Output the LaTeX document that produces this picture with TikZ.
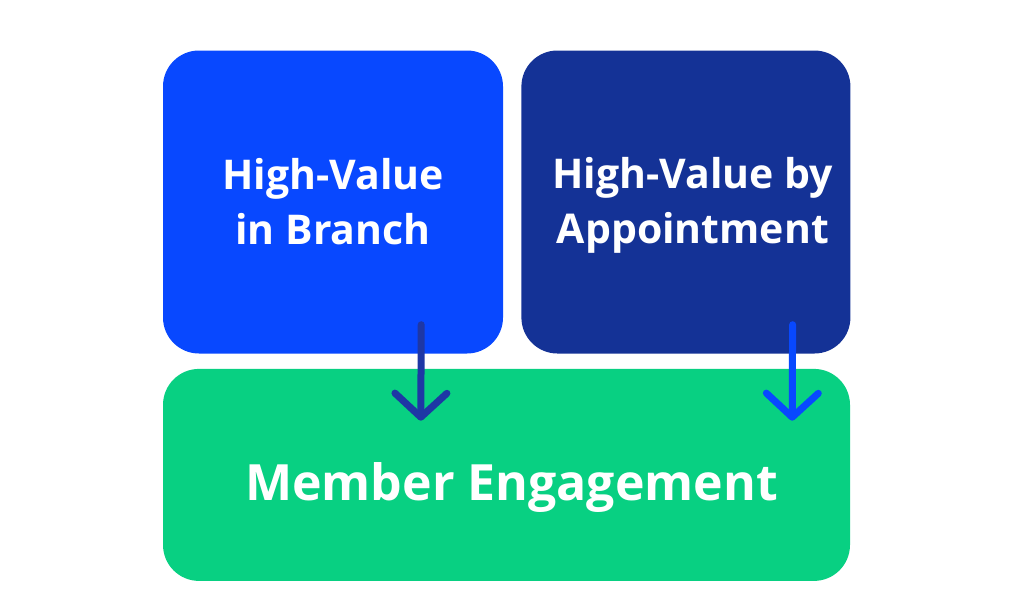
\documentclass[tikz,border=0pt]{standalone}
\usepackage{fontspec}
\setmainfont{Open Sans}
\usepackage{xcolor}
\usepackage{tikz}
\usetikzlibrary{arrows.meta,positioning,calc}

\definecolor{brightblue}{RGB}{8,72,255}
\definecolor{navyblue}{RGB}{20,50,150}
\definecolor{mintgreen}{RGB}{8,208,130}
\definecolor{arrowblue}{RGB}{30,55,165}

\tikzset{
  tile/.style={rounded corners=36pt, text=white, align=center, font=\bfseries\fontsize{41}{55}\selectfont},
  downarrow/.style={line width=7pt, line cap=round, -{Straight Barb[length=24pt, width=52pt, round]}}
}

\begin{document}
\begin{tikzpicture}[x=1pt, y=-1pt]
    \useasboundingbox (0,0) rectangle (1024,611);
    \node[tile, fill=brightblue, minimum width=340pt, minimum height=303pt] (HB) at (333,202) {High-Value\\in Branch};
    \node[tile, fill=navyblue, minimum width=329pt, minimum height=303pt, right=18pt of HB] (HA) {};
    \node[text=white, align=center, font=\bfseries\fontsize{41}{55}\selectfont] (HAtext) at ($(HA.center)+(7,3)$) {High-Value by\\Appointment};
    \node[tile, fill=mintgreen, minimum width=687pt, minimum height=212pt, below=15pt of HB.south west, anchor=north west] (ME) {};
    \node[text=white, font=\bfseries\fontsize{50}{60}\selectfont] (MEtext) at ($(ME.center)+(5,13)$) {Member Engagement};
    % arrows
    \coordinate (s1) at ($(HB.south east)+(-82,-29)$);
    \coordinate (e1) at ($(ME.north west)+(258,52)$);
    \coordinate (s2) at ($(HA.south east)+(-58,-29)$);
    \coordinate (e2) at ($(ME.north east)+(-58,52)$);
    \draw[downarrow, arrowblue] (s1) -- (e1);
    \draw[downarrow, brightblue] (s2) -- (e2);
\end{tikzpicture}
\end{document}
